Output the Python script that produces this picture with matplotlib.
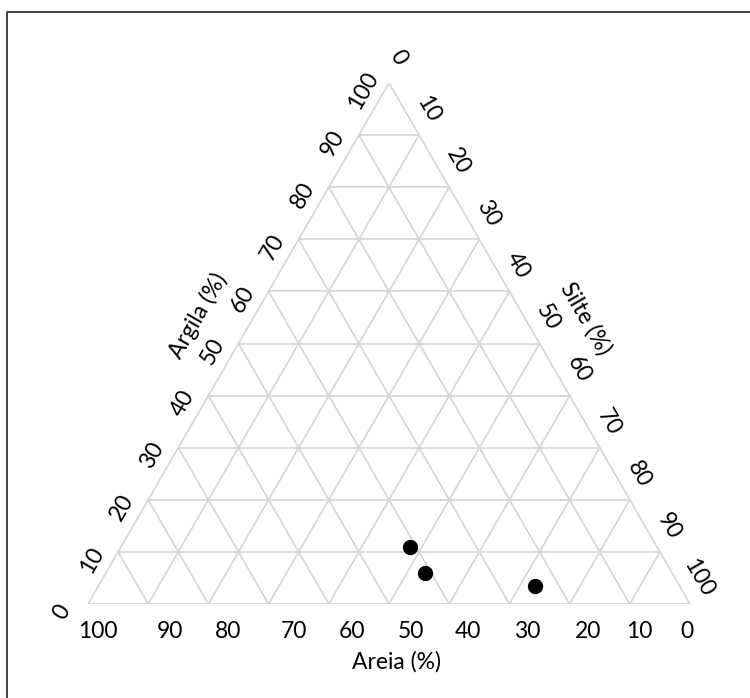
import matplotlib
matplotlib.use('Agg')

import numpy as np
import matplotlib.pyplot as plt
from matplotlib.lines import Line2D

plt.rcParams['font.family'] = ['Lato', 'DejaVu Sans']

# soil texture samples (%)
areia = [41, 41, 24]
silte = [48, 53, 72.5]
argila = [11, 6, 3.5]

ticks = [0, 10, 20, 30, 40, 50, 60, 70, 80, 90, 100]
tick_labels = [str(t) for t in ticks]

H = np.sqrt(3) / 2


def tern(sand, silt, clay):
    # sand -> bottom-left, silt -> bottom-right, clay -> top
    total = np.asarray(sand) + np.asarray(silt) + np.asarray(clay)
    s = np.asarray(silt) / total
    c = np.asarray(clay) / total
    return s + c / 2, c * H


W, Hpx = 750, 698
fig = plt.figure(figsize=(W / 100, Hpx / 100), dpi=100)
ax = fig.add_axes([88 / W, 94 / Hpx, 602 / W, 521 / Hpx])
ax.set_xlim(0, 1)
ax.set_ylim(0, H)
ax.axis('off')

grid_color = '#d4d4d4'
# grid lines for each component
for t in ticks[1:-1]:
    # constant clay
    x, y = tern([100 - t, 0], [0, 100 - t], [t, t])
    ax.plot(x, y, color=grid_color, lw=1.2, zorder=1)
    # constant sand
    x, y = tern([t, t], [100 - t, 0], [0, 100 - t])
    ax.plot(x, y, color=grid_color, lw=1.2, zorder=1)
    # constant silt
    x, y = tern([100 - t, 0], [t, t], [0, 100 - t])
    ax.plot(x, y, color=grid_color, lw=1.2, zorder=1)

# outline
x, y = tern([100, 0, 0, 100], [0, 100, 0, 0], [0, 0, 100, 0])
ax.plot(x, y, color=grid_color, lw=1.2, zorder=1)

# data points
x, y = tern(areia, silte, argila)
ax.plot(x, y, 'o', color='black', markersize=10, zorder=3, clip_on=False)

fs = 16.5

# bottom axis: Areia, 100 at left -> 0 at right
bottom_dx = [-3, 9, 18, 18, 19, 22, 23, 25, 20, 22, 10]
for t, lab, dx in zip(ticks, tick_labels, bottom_dx):
    x, y = tern([t], [100 - t], [0])
    ax.annotate(lab, (x[0], y[0]), xytext=(dx, -28), textcoords='offset pixels',
                ha='center', va='center', fontsize=fs, annotation_clip=False)

# left axis: Argila, 0 at bottom -> 100 at top
for t, lab in zip(ticks, tick_labels):
    x, y = tern([100 - t], [0], [t])
    ax.annotate(lab, (x[0], y[0]), xytext=(-26, -8), textcoords='offset pixels',
                ha='center', va='center', rotation=60, fontsize=fs,
                annotation_clip=False)

# right axis: Silte, 0 at top -> 100 at bottom right
for t, lab in zip(ticks, tick_labels):
    x, y = tern([0], [t], [100 - t])
    ax.annotate(lab, (x[0], y[0]), xytext=(9, 26), textcoords='offset pixels',
                ha='center', va='center', rotation=-60, fontsize=fs,
                annotation_clip=False)

# axis titles
fig.text(397 / W, 1 - 662 / Hpx, 'Areia (%)', ha='center', va='center', fontsize=fs)
fig.text(198 / W, 1 - 316 / Hpx, 'Argila (%)', ha='center', va='center',
         rotation=60, fontsize=fs)
fig.text(586 / W, 1 - 318 / Hpx, 'Silte (%)', ha='center', va='center',
         rotation=-60, fontsize=fs)

# frame (cut off at right and bottom like the original)
fig.add_artist(Line2D([7 / W, 7 / W, 1.02], [-0.02, 1 - 12 / Hpx, 1 - 12 / Hpx],
                      transform=fig.transFigure, color='#222222', lw=1.2))

fig.savefig('out.png', dpi=100)
